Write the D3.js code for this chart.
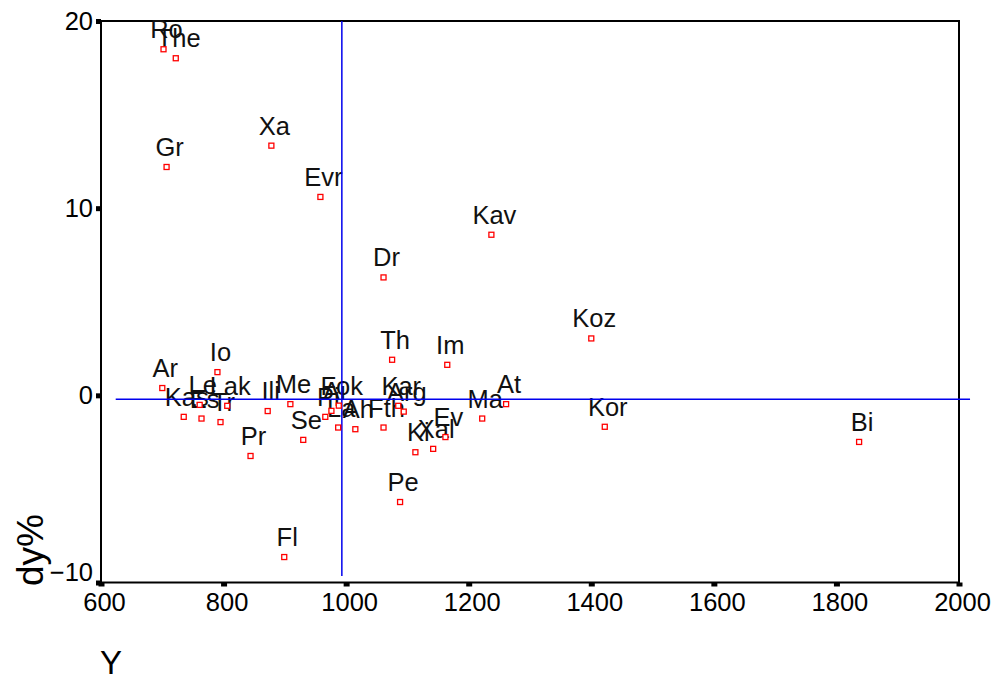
<!DOCTYPE html>
<html>
<head>
<meta charset="utf-8">
<script src="https://cdn.jsdelivr.net/npm/d3@7"></script>
<style>
	body { margin: 0; background: #fff; }
	svg { display: block; font-family: "Liberation Sans", Arial, sans-serif; }
</style>
</head>
<body>
<div class="output"><svg width="1000" height="680"></svg></div>
<script>

//Data: one label, one Y and one dy% value per point.
var labels = ["Ro","The","Xa","Gr","Evr","Kav","Dr","Koz","Th","Im",
	"Io","Ar","At","Kas","Es","Le","Lak","Tr","Ili","Me",
	"Se","Pr","Pi","Ai","Fok","La","Ah","Fth","Kar","Arg",
	"Ki","Xal","Ev","Ma","Kor","Bi","Pe","Fl"];
var yValues = [702,722,878,707,958,1237,1061,1400,1075,1165,
	790,700,1261,735,764,761,806,795,872,909,
	930,844,966,976,988,987,1015,1061,1085,1094,
	1113,1142,1162,1222,1422,1837,1088,899];
var dyValues = [18.49,18.01,13.34,12.20,10.60,8.58,6.30,3.04,1.90,1.63,
	1.24,0.39,-0.47,-1.15,-1.24,-0.51,-0.56,-1.43,-0.84,-0.47,
	-2.38,-3.24,-1.15,-0.83,-0.55,-1.72,-1.81,-1.72,-0.56,-0.87,
	-3.04,-2.86,-2.23,-1.24,-1.68,-2.49,-5.70,-8.64];

//Axis ticks.
var xTicks = [600,800,1000,1200,1400,1600,1800,2000];
var yTicks = [-10,0,10,20];

//Blue reference lines (mean Y and mean dy%), with their extents.
var meanY = 993;
var meanDy = -0.21;
var vLineExtent = [-9.65, 20];
var hLineExtent = [624, 2018];

var svg = d3.select("div.output svg");

//--------------------------------SCALES------------------------------------------

var x = d3.scaleLinear()
	.domain([600, 2000])
	.range([101, 959]);

var y = d3.scaleLinear()
	.domain([-10, 20])
	.range([582.5, 21]);

//--------------------------------AXES--------------------------------------------

var xAxis = svg.append("g")
	.attr("class", "xaxis")
	.attr("transform", "translate(0," + y(-10) + ")")
	.call(d3.axisBottom(x).tickValues(xTicks).tickFormat(d3.format("d")).tickSize(4).tickPadding(6.5));

xAxis.select(".domain").remove();
xAxis.selectAll(".tick line")
	.attr("stroke", "#000")
	.attr("stroke-width", 6);
xAxis.selectAll(".tick text")
	.attr("dx", 3)
	.attr("font-size", "25.5px")
	.attr("font-family", "Liberation Sans, Arial, sans-serif")
	.attr("fill", "#000");

var yAxis = svg.append("g")
	.attr("class", "yaxis")
	.attr("transform", "translate(" + x(600) + ",0)")
	.call(d3.axisLeft(y).tickValues(yTicks).tickFormat(d3.format("d")).tickSize(5).tickPadding(3));

yAxis.select(".domain").remove();
yAxis.selectAll(".tick line")
	.attr("stroke", "#000")
	.attr("stroke-width", 5);
yAxis.selectAll(".tick text")
	.attr("font-size", "25.5px")
	.attr("font-family", "Liberation Sans, Arial, sans-serif")
	.attr("fill", "#000")
	//bottom label sits a bit higher, clear of the x labels
	.attr("y", function(d){ return d == -10 ? -10 : 0; });

//Frame round the plot.
svg.append("rect")
	.attr("x", x(600))
	.attr("y", y(20))
	.attr("width", x(2000) - x(600))
	.attr("height", y(-10) - y(20))
	.attr("fill", "none")
	.attr("stroke", "#000")
	.attr("stroke-width", 2);

//Axis titles.
svg.append("text")
	.attr("x", 111)
	.attr("y", 674)
	.attr("text-anchor", "middle")
	.attr("font-size", "33px")
	.text("Y");

svg.append("text")
	.attr("transform", "translate(43,586) rotate(-90)")
	.attr("text-anchor", "start")
	.attr("font-size", "37px")
	.text("dy%");

//--------------------------------POINTS------------------------------------------

var points = labels.map(function(d, i){ return {name: d, x: yValues[i], y: dyValues[i]}; });

svg.append("g").selectAll("text")
	.data(points)
	.enter().append("text")
		.attr("x", function(d){ return x(d.x) + 3; })
		.attr("y", function(d){ return y(d.y) - 11; })
		.attr("text-anchor", "middle")
		.attr("font-size", "25.5px")
		.attr("fill", "#111")
		.text(function(d){ return d.name; });

//Mean lines.
svg.append("line")
	.attr("x1", x(meanY)).attr("x2", x(meanY))
	.attr("y1", y(vLineExtent[0])).attr("y2", y(vLineExtent[1]))
	.attr("stroke", "#0000ee")
	.attr("stroke-width", 1.5);

svg.append("line")
	.attr("x1", x(hLineExtent[0])).attr("x2", x(hLineExtent[1]))
	.attr("y1", y(meanDy)).attr("y2", y(meanDy))
	.attr("stroke", "#0000ee")
	.attr("stroke-width", 1.5);

svg.append("g").selectAll("rect")
	.data(points)
	.enter().append("rect")
		.attr("x", function(d){ return x(d.x) - 2.5; })
		.attr("y", function(d){ return y(d.y) - 2.5; })
		.attr("width", 5)
		.attr("height", 5)
		.attr("fill", "#fff")
		.attr("stroke", "#ff0000")
		.attr("stroke-width", 1.3);

</script>
</body>
</html>
